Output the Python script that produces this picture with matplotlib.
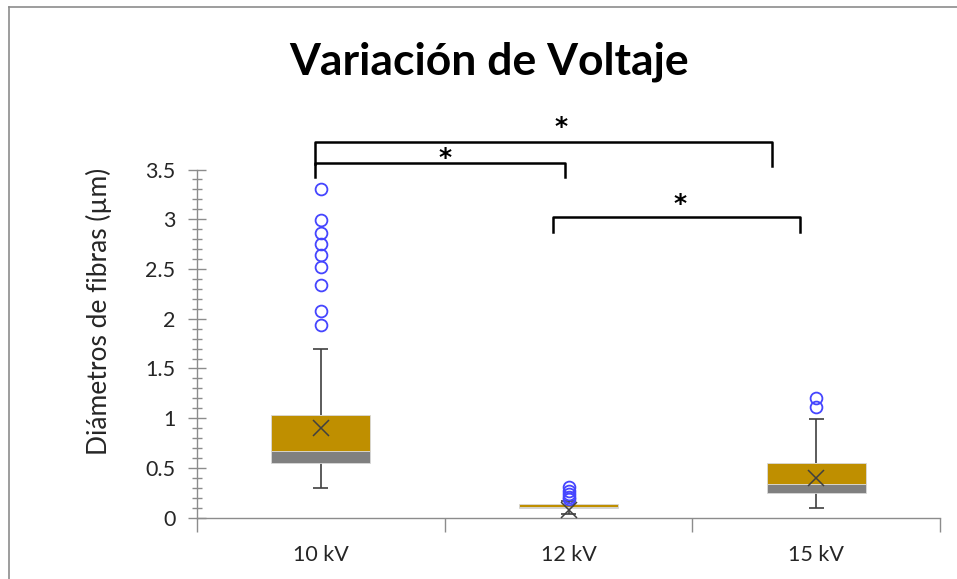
import matplotlib.pyplot as plt
from matplotlib.lines import Line2D
from matplotlib.ticker import MultipleLocator, FixedLocator

# data (um)
categories = ['10 kV', '12 kV', '15 kV']
whisker_low = [0.30, 0.035, 0.095]
q1 = [0.552, 0.100, 0.245]
median = [0.673, 0.108, 0.338]
q3 = [1.034, 0.140, 0.546]
whisker_high = [1.70, 0.17, 0.99]
means = [0.90, 0.08, 0.396]
outliers = [
    [3.30, 2.99, 2.86, 2.75, 2.64, 2.52, 2.34, 2.08, 1.94],
    [0.31, 0.27, 0.24, 0.21, 0.19],
    [1.20, 1.11],
]

# significance brackets: (x_left, x_right, y_bar, y_leg_left, y_leg_right, star_x, star_y)
brackets = [
    (0.976, 2.820, 3.775, 3.560, 3.534, 1.969, 3.976),
    (0.976, 1.985, 3.564, 3.424, 3.424, 1.500, 3.659),
    (1.938, 2.934, 3.022, 2.871, 2.871, 2.449, 3.197),
]

gold = '#BF8F00'
grey = '#808080'
dark = '#404040'
font = 'Lato'
plt.rcParams['font.family'] = [font, 'DejaVu Sans']

fig = plt.figure(figsize=(9.57, 5.79), dpi=100)
ax = fig.add_axes([197/957, 1 - 517.7/579, (940-197)/957, (517.7-169.5)/579])

xs = [1, 2, 3]
w = 0.4
cap = 0.05
for i, x in enumerate(xs):
    ax.bar(x, median[i] - q1[i], bottom=q1[i], width=w, color=grey,
           edgecolor='#d9d9d9', linewidth=0.6, zorder=2)
    ax.bar(x, q3[i] - median[i], bottom=median[i], width=w, color=gold,
           edgecolor='#d9d9d9', linewidth=0.6, zorder=2)
    ax.vlines(x, whisker_low[i], q1[i], color=dark, lw=1.2, zorder=1)
    ax.vlines(x, q3[i], whisker_high[i], color=dark, lw=1.2, zorder=1)
    ax.hlines([whisker_low[i], whisker_high[i]], x - cap/2 - 0.005, x + cap/2 + 0.005,
              color=dark, lw=1.2, zorder=1)
    ax.plot([x]*len(outliers[i]), outliers[i], 'o', ms=8.5, mfc='none',
            mec='#4545FF', mew=1.3, zorder=3)
    ax.plot(x, means[i], 'x', ms=11, color=dark, mew=1.1, zorder=4)

ax.set_xlim(0.5, 3.5)
ax.set_ylim(0, 3.5)

for s in ['top', 'right']:
    ax.spines[s].set_visible(False)
for s in ['left', 'bottom']:
    ax.spines[s].set_color('#8c8c8c')
    ax.spines[s].set_linewidth(1.0)

ax.yaxis.set_major_locator(MultipleLocator(0.5))
ax.yaxis.set_minor_locator(MultipleLocator(0.1))
ax.tick_params(axis='y', which='major', direction='inout', length=13, width=1,
               color='#8c8c8c', labelsize=15.5, labelcolor='#262626', pad=9)
ax.tick_params(axis='y', which='minor', direction='inout', length=7, width=1,
               color='#8c8c8c')
ax.set_yticks([0, 0.5, 1, 1.5, 2, 2.5, 3, 3.5])
ax.set_yticklabels(['0', '0.5', '1', '1.5', '2', '2.5', '3', '3.5'])

ax.xaxis.set_major_locator(FixedLocator(xs))
ax.xaxis.set_minor_locator(FixedLocator([0.5, 1.5, 2.5, 3.5]))
ax.set_xticklabels(categories)
ax.tick_params(axis='x', which='major', length=0, labelsize=15.5,
               labelcolor='#262626', pad=20)
ax.tick_params(axis='x', which='minor', direction='out', length=10, width=1,
               color='#8c8c8c')

ax.set_ylabel('Diámetros de fibras (µm)', fontsize=19, color='#262626')
ax.yaxis.set_label_coords(-0.1144, 0.592)

for xl, xr, yb, yll, ylr, sx, sy in brackets:
    ax.plot([xl, xl, xr, xr], [yll, yb, yb, ylr], color='black', lw=1.8,
            solid_joinstyle='round', clip_on=False, zorder=5)
    ax.text(sx, sy - 0.045, '*', ha='center', va='center', fontsize=18,
            family='DejaVu Sans', fontweight='bold', color='black', clip_on=False)

fig.text(489/957, 1 - 62/579, 'Variación de Voltaje', ha='center', va='center',
         fontsize=32, fontweight='bold', color='black')

# chart area border (top and left visible)
fig.add_artist(Line2D([9/957, 1], [1 - 7/579, 1 - 7/579], transform=fig.transFigure,
                      color='#8c8c8c', lw=1.2))
fig.add_artist(Line2D([9/957, 9/957], [0, 1 - 7/579], transform=fig.transFigure,
                      color='#8c8c8c', lw=1.2))

fig.savefig('out.png', dpi=100)
